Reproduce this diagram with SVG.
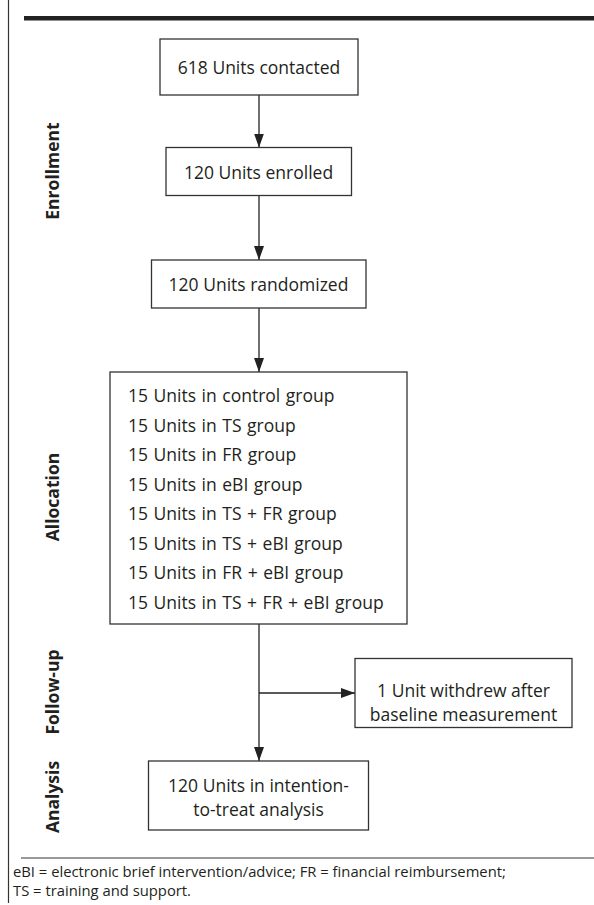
<svg xmlns="http://www.w3.org/2000/svg" width="594" height="905" viewBox="0 0 594 905">
<defs>
<style>
.box{fill:#fff;stroke:#333;stroke-width:1.3}
.t{font-family:"Open Sans","Noto Sans",sans-serif;font-size:17.5px;fill:#231f20}
.c{text-anchor:middle}
.lab{font-family:"Open Sans","Noto Sans",sans-serif;font-size:17.5px;font-weight:bold;fill:#231f20;text-anchor:middle}
.fn{font-family:"Open Sans","Noto Sans",sans-serif;font-size:14.8px;fill:#231f20}
.ln{stroke:#222;stroke-width:1.3;fill:none}
</style>
<marker id="ah" markerUnits="userSpaceOnUse" markerWidth="15" markerHeight="11" refX="14" refY="5" orient="auto">
<path d="M0,0 L14,5 L0,10 z" fill="#222"/>
</marker>
</defs>
<rect width="594" height="905" fill="#fff"/>
<g id="frame">
<line x1="8.5" y1="0" x2="8.5" y2="903" stroke="#333" stroke-width="1.2"/>
<rect x="24" y="16" width="570" height="4.5" fill="#222"/>
<line x1="21" y1="858" x2="594" y2="858" stroke="#333" stroke-width="1"/>
</g>
<g id="labels">
<text class="lab" transform="translate(58.5,171) rotate(-90)">Enrollment</text>
<text class="lab" transform="translate(58.5,497) rotate(-90)">Allocation</text>
<text class="lab" transform="translate(58.5,692) rotate(-90)">Follow-up</text>
<text class="lab" transform="translate(58.5,797) rotate(-90)">Analysis</text>
</g>
<g id="connectors">
<line class="ln" x1="259" y1="95" x2="259" y2="147.5" marker-end="url(#ah)"/>
<line class="ln" x1="259" y1="195.5" x2="259" y2="260" marker-end="url(#ah)"/>
<line class="ln" x1="259" y1="308" x2="259" y2="372" marker-end="url(#ah)"/>
<line class="ln" x1="259" y1="624" x2="259" y2="761" marker-end="url(#ah)"/>
<line class="ln" x1="259" y1="693" x2="355" y2="693" marker-end="url(#ah)"/>
</g>
<g id="n1">
<rect class="box" x="160" y="39" width="198" height="56"/>
<text class="t c" x="259" y="74">618 Units contacted</text>
</g>
<g id="n2">
<rect class="box" x="166" y="147.5" width="185.5" height="48"/>
<text class="t c" x="258.5" y="179">120 Units enrolled</text>
</g>
<g id="n3">
<rect class="box" x="151.5" y="260" width="214.5" height="48"/>
<text class="t c" x="258.5" y="291">120 Units randomized</text>
</g>
<g id="n4">
<rect class="box" x="110" y="372" width="297" height="252"/>
<text class="t" x="128" y="402" word-spacing="1">15 Units in control group</text>
<text class="t" x="128" y="431.5" word-spacing="1">15 Units in TS group</text>
<text class="t" x="128" y="461" word-spacing="1">15 Units in FR group</text>
<text class="t" x="128" y="490.5" word-spacing="1">15 Units in eBI group</text>
<text class="t" x="128" y="520" word-spacing="1">15 Units in TS + FR group</text>
<text class="t" x="128" y="549.5" word-spacing="1">15 Units in TS + eBI group</text>
<text class="t" x="128" y="579" word-spacing="1">15 Units in FR + eBI group</text>
<text class="t" x="128" y="608.5" word-spacing="1">15 Units in TS + FR + eBI group</text>
</g>
<g id="n5">
<rect class="box" x="355" y="658.5" width="217" height="69"/>
<text class="t c"><tspan x="463.5" y="697">1 Unit withdrew after</tspan><tspan x="463.5" y="721">baseline measurement</tspan></text>
</g>
<g id="n6">
<rect class="box" x="148.5" y="761" width="220" height="69"/>
<text class="t c"><tspan x="258.5" y="791.5">120 Units in intention-</tspan><tspan x="258.5" y="815.5">to-treat analysis</tspan></text>
</g>
<g id="footnote">
<text class="fn"><tspan x="13" y="877">eBI = electronic brief intervention/advice; FR = financial reimbursement;</tspan><tspan x="13" y="896">TS = training and support.</tspan></text>
</g>
</svg>
